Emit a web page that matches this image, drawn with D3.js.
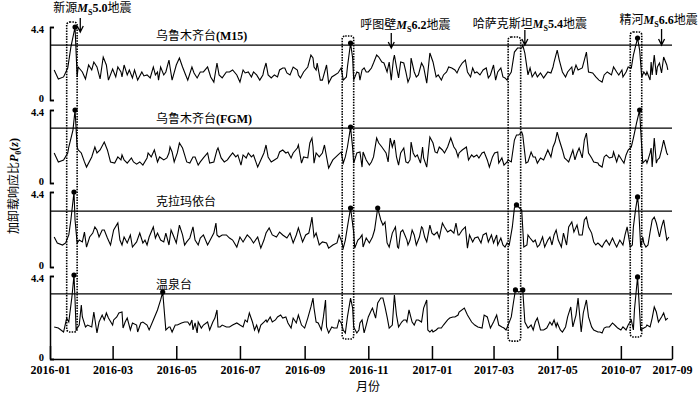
<!DOCTYPE html>
<html>
<head>
<meta charset="utf-8">
<script src="https://cdn.jsdelivr.net/npm/d3@7"></script>
<style>
body { margin: 0; background: #fff; }
text { font-family: "Liberation Serif", "Noto Sans CJK SC", serif; fill: #000; }
</style>
</head>
<body>
<div id="chart"></div>
<script>
// day = days since 2016-01-01, value = P0(z)
var m15 = [[4,1.81],[8,1.27],[13,1.39],[17,1.93],[20,3.19],[24,4.4],[26,1.39],[27,1.99],[31,1.69],[34,1.27],[37,2.11],[40,1.81],[42,2.29],[45,1.99],[48,1.27],[51,2.59],[54,2.11],[56,1.2],[60,1.87],[63,1.39],[65,1.99],[68,1.69],[69,1.39],[71,2.11],[74,1.51],[76,1.81],[79,1.33],[81,1.81],[84,1.2],[88,1.69],[90,1.45],[93,1.51],[96,1.33],[99,1.99],[101,1.51],[103,1.69],[104,1.2],[106,1.99],[109,1.51],[111,1.69],[114,2.41],[115,1.99],[117,1.2],[121,2.11],[124,2.53],[127,1.99],[130,1.51],[132,1.2],[136,1.99],[138,1.63],[141,1.33],[144,1.69],[147,1.69],[151,1.99],[154,1.39],[157,1.08],[160,2.23],[162,1.51],[165,1.33],[169,1.69],[172,1.69],[175,1.81],[179,1.51],[182,1.08],[185,1.81],[187,1.63],[190,1.69],[193,1.39],[195,1.69],[198,1.51],[201,1.2],[204,1.51],[205,1.81],[207,2.23],[209,1.51],[212,1.33],[215,1.51],[218,1.39],[220,1.81],[223,1.93],[225,1.93],[227,1.63],[230,1.51],[233,1.99],[237,1.81],[238,1.51],[240,1.33],[243,1.69],[247,1.99],[250,2.71],[252,2.53],[253,1.99],[255,1.81],[256,2.23],[259,1.2],[261,1.2],[265,2.11],[267,1.02],[270,1.39],[273,1.51],[276,1.63],[279,1.93],[281,1.2],[284,1.39],[285,1.99],[288,3.43],[290,2.53],[291,1.2],[294,1.69],[296,1.63],[297,1.2],[299,1.81],[301,1.93],[303,1.69],[305,1.69],[308,1.93],[310,2.23],[313,2.71],[315,2.59],[318,2.29],[320,2.23],[323,1.69],[325,2.29],[327,1.2],[329,2.41],[330,2.71],[332,1.99],[334,1.33],[336,2.29],[339,2.23],[341,1.69],[343,1.08],[345,1.39],[346,2.53],[349,1.69],[351,1.39],[353,1.51],[356,2.23],[358,1.99],[361,1.02],[364,2.83],[367,2.29],[370,1.39],[372,1.51],[375,1.2],[377,1.51],[380,1.69],[382,1.99],[385,1.93],[388,1.81],[390,1.63],[392,1.93],[395,2.23],[398,2.41],[400,1.69],[403,1.39],[405,1.93],[407,1.63],[409,1.69],[412,1.51],[415,1.81],[418,1.93],[420,1.33],[422,1.51],[425,2.11],[427,1.2],[429,1.69],[432,1.93],[434,1.39],[436,1.33],[438,1.2],[439,1.39],[442,1.69],[445,2.89],[448,3.13],[452,3.13],[453,3.31],[455,2.83],[458,1.51],[460,1.93],[462,1.39],[465,1.69],[467,1.39],[470,1.63],[473,1.33],[477,1.69],[480,1.63],[482,1.99],[483,2.29],[486,3.01],[488,2.41],[491,1.69],[494,1.39],[496,1.69],[500,1.99],[501,1.51],[504,2.11],[506,1.81],[510,1.93],[512,2.41],[514,2.89],[516,1.69],[520,1.63],[523,1.39],[526,1.2],[529,1.08],[531,1.51],[534,1.69],[538,1.51],[540,1.99],[543,1.69],[545,1.51],[548,1.81],[549,1.39],[552,1.69],[554,1.99],[557,1.93],[559,2.71],[563,3.73],[565,3.01],[567,1.39],[569,1.69],[571,1.51],[572,1.69],[575,1.2],[576,2.29],[577,1.51],[579,2.71],[581,1.51],[582,1.99],[584,2.23],[586,1.63],[588,2.59],[591,2.11],[592,1.81]];

var fgm = [[4,1.81],[8,1.27],[13,1.39],[17,1.81],[18,2.17],[22,3.19],[24,4.4],[26,2.17],[27,1.99],[30,1.81],[33,1.27],[35,0.96],[40,1.57],[43,2.17],[45,1.81],[48,1.99],[52,2.47],[55,1.99],[58,1.27],[62,1.2],[65,1.57],[68,1.39],[69,1.69],[71,1.39],[74,1.2],[78,1.51],[80,1.27],[83,1.14],[86,1.27],[89,1.08],[93,1.51],[94,1.81],[97,1.57],[100,1.99],[103,1.27],[105,1.57],[109,1.39],[112,1.51],[114,1.81],[115,2.17],[117,1.87],[119,1.27],[122,1.81],[124,2.41],[127,2.11],[129,1.69],[131,1.27],[134,1.2],[137,1.57],[139,1.57],[142,1.08],[144,1.27],[147,1.51],[151,1.81],[153,1.2],[157,1.27],[160,1.99],[161,2.11],[164,1.51],[167,1.27],[170,1.39],[172,1.57],[175,1.81],[178,1.57],[180,1.69],[183,1.08],[185,1.69],[188,1.51],[190,1.81],[193,1.57],[195,1.69],[199,0.96],[202,1.39],[205,1.81],[207,2.29],[209,1.57],[212,1.27],[215,1.39],[218,1.51],[220,1.87],[223,1.99],[226,1.81],[228,1.87],[231,1.51],[233,1.81],[237,2.11],[238,2.29],[241,1.2],[243,1.57],[247,1.51],[249,2.41],[251,2.71],[252,2.17],[253,1.2],[255,1.81],[258,1.57],[261,1.81],[263,2.29],[265,1.57],[267,0.9],[271,1.39],[274,1.57],[276,1.69],[279,1.87],[281,1.2],[283,1.57],[285,2.17],[288,3.37],[290,2.11],[291,1.2],[294,1.81],[297,1.87],[299,0.96],[300,1.87],[303,1.39],[306,1.08],[308,1.27],[310,1.57],[313,2.71],[315,2.41],[318,2.17],[320,1.99],[322,1.81],[324,1.27],[326,2.71],[328,2.17],[330,2.59],[332,1.57],[334,1.08],[336,1.81],[339,2.11],[341,1.27],[343,1.2],[345,1.39],[346,2.47],[348,1.81],[350,1.57],[352,1.69],[355,1.2],[357,2.17],[358,1.51],[361,0.96],[364,2.77],[367,2.41],[369,1.87],[371,1.81],[373,2.17],[376,1.99],[378,1.81],[381,2.17],[384,2.71],[387,2.17],[389,1.99],[391,1.57],[392,1.81],[395,1.99],[399,2.17],[401,1.39],[404,1.69],[406,1.57],[409,1.69],[411,1.51],[414,1.81],[416,1.87],[419,1.39],[421,0.96],[424,1.57],[426,1.81],[429,1.87],[430,1.2],[433,1.51],[435,1.08],[438,1.27],[439,1.39],[442,1.27],[445,2.59],[447,2.89],[449,2.89],[452,3.07],[453,2.89],[456,1.2],[458,1.27],[461,1.87],[463,1.57],[465,1.57],[467,1.2],[470,1.51],[473,1.39],[475,1.69],[477,1.99],[480,1.57],[482,2.17],[484,2.47],[486,3.07],[488,2.59],[491,1.99],[493,1.51],[495,1.39],[497,1.27],[500,1.81],[501,1.99],[503,1.39],[505,1.81],[507,2.11],[510,1.51],[512,2.59],[514,3.01],[516,1.81],[519,1.51],[521,1.27],[525,1.2],[526,1.08],[529,0.96],[531,1.57],[533,1.69],[536,1.51],[539,1.57],[540,1.87],[543,1.27],[545,1.69],[548,1.39],[550,1.2],[552,1.69],[554,1.99],[557,2.17],[559,2.71],[562,3.61],[565,4.4],[566,3.19],[568,1.2],[569,1.27],[571,1.39],[572,1.2],[573,1.39],[575,1.81],[576,2.11],[577,0.96],[579,2.71],[581,1.2],[582,1.39],[584,1.51],[586,1.99],[588,2.59],[591,1.81],[592,1.69]];

var klmy = [[4,1.76],[7,1.41],[12,1.29],[15,1.41],[18,1.88],[20,2.76],[23,4.4],[24,2.76],[26,1.41],[28,1.58],[31,1.47],[33,2.05],[35,1.17],[38,1.76],[41,1.99],[43,2.35],[45,2.17],[47,1.76],[50,2.17],[52,2.17],[55,1.7],[58,1.29],[61,2.17],[65,2.58],[67,1.58],[69,1.29],[71,1.76],[74,1.41],[77,1.88],[79,1.17],[83,1.47],[86,1.99],[89,1.41],[91,1.58],[93,1.29],[95,1.76],[99,2.35],[101,1.7],[103,1.99],[106,1.58],[109,1.47],[111,1.99],[114,1.29],[116,2.17],[118,1.88],[121,1.41],[124,2.46],[127,1.88],[129,1.29],[131,1.47],[134,1.7],[137,2.35],[139,1.58],[142,1.29],[144,1.7],[147,1.88],[151,1.29],[155,1.76],[157,1.99],[159,2.58],[160,1.88],[162,1.76],[165,1.88],[169,1.88],[172,1.7],[175,1.58],[179,1.17],[182,1.76],[185,1.47],[189,1.88],[192,1.7],[195,1.41],[199,1.76],[202,1.11],[205,1.58],[207,1.99],[210,2.29],[213,1.88],[217,1.76],[220,2.05],[223,1.88],[227,1.7],[230,1.99],[233,1.41],[236,1.88],[238,2.29],[242,1.47],[245,1.88],[248,1.99],[250,2.58],[251,2.93],[253,1.76],[255,1.99],[258,1.29],[261,1.47],[265,1.41],[267,1.11],[271,1.29],[275,1.41],[277,1.88],[279,1.58],[281,1.11],[283,1.58],[285,2.35],[288,3.46],[291,2.05],[292,1.11],[295,1.58],[297,1.7],[299,1.88],[300,1.17],[303,1.7],[306,1.41],[309,1.76],[311,2.17],[314,3.46],[317,2.76],[319,2.46],[321,2.64],[323,1.41],[325,1.17],[328,1.99],[331,2.35],[333,1.17],[334,1.11],[336,2.05],[338,2.17],[340,1.88],[342,1.58],[343,1.29],[345,1.58],[347,2.17],[349,1.88],[351,1.29],[354,1.76],[356,2.35],[357,2.29],[359,1.76],[361,1.47],[364,2.46],[366,1.99],[368,1.88],[371,2.05],[373,1.7],[376,2.58],[378,2.35],[381,2.05],[384,2.17],[387,1.99],[389,2.58],[391,1.88],[392,1.88],[395,2.17],[398,2.35],[400,1.11],[402,1.88],[405,1.47],[407,1.7],[410,1.76],[413,1.41],[415,1.88],[418,1.99],[420,1.47],[423,1.88],[425,1.41],[428,1.88],[429,1.29],[432,1.7],[434,1.29],[436,1.17],[438,1.41],[440,1.29],[443,2.35],[445,3.46],[447,3.64],[449,3.52],[452,3.34],[454,1.17],[457,1.29],[458,1.88],[460,1.7],[463,1.47],[465,1.58],[467,1.17],[469,1.29],[472,1.76],[474,1.17],[477,1.58],[479,1.76],[481,1.29],[483,1.88],[485,2.17],[487,1.58],[490,1.17],[492,1.99],[495,1.29],[497,2.35],[500,2.64],[502,2.05],[505,2.46],[507,1.88],[510,1.88],[512,2.76],[514,2.93],[516,2.35],[519,1.99],[521,1.47],[523,1.29],[525,1.41],[527,1.29],[529,1.17],[531,1.41],[533,1.58],[536,1.29],[539,1.7],[541,1.41],[543,1.17],[546,1.58],[549,1.29],[551,1.88],[553,2.35],[556,1.17],[558,1.29],[559,2.35],[561,3.34],[563,4.11],[564,3.52],[566,1.17],[568,1.76],[569,1.41],[571,1.17],[573,1.29],[575,2.05],[577,2.76],[579,2.93],[581,2.58],[584,1.76],[586,2.35],[588,2.76],[590,1.99],[591,1.58],[593,1.76]];

var wq = [[4,1.7],[8,1.64],[13,1.43],[16,2.17],[18,1.96],[21,3.29],[23,4.45],[24,3.13],[25,1.54],[28,1.8],[30,2.86],[31,2.23],[34,1.7],[36,1.8],[40,1.7],[42,2.49],[45,1.38],[47,1.96],[50,2.33],[52,2.07],[54,2.44],[56,2.17],[60,1.8],[61,2.07],[64,2.23],[66,2.44],[69,2.49],[70,1.64],[72,1.96],[74,2.17],[77,1.54],[79,1.91],[83,1.8],[84,1.43],[87,1.91],[89,1.96],[93,1.8],[95,1.54],[99,2.07],[103,2.6],[106,3.13],[108,3.55],[111,1.54],[114,1.7],[115,1.7],[117,1.43],[120,1.8],[122,1.8],[126,1.91],[129,1.96],[132,1.96],[134,1.8],[136,2.07],[137,1.54],[139,1.91],[141,1.38],[142,1.96],[145,1.64],[147,1.8],[151,1.96],[153,1.54],[156,1.96],[158,2.17],[160,2.6],[161,1.7],[163,1.7],[165,1.8],[169,1.7],[172,1.7],[175,1.8],[179,1.91],[182,1.8],[185,1.7],[187,2.07],[189,1.96],[191,2.44],[194,1.96],[196,1.54],[198,1.8],[200,1.43],[202,1.8],[205,1.96],[207,2.07],[208,1.96],[211,2.23],[213,1.96],[216,2.07],[218,2.23],[221,2.33],[223,2.17],[226,2.23],[228,1.91],[231,1.64],[233,2.17],[236,1.91],[238,2.33],[241,1.8],[244,1.64],[247,2.17],[250,2.76],[252,3.23],[253,2.7],[255,1.96],[257,1.91],[260,1.54],[262,2.23],[264,3.13],[265,1.7],[267,1.38],[270,1.7],[272,1.64],[275,1.64],[277,2.07],[279,1.91],[281,1.54],[283,1.38],[285,2.23],[288,3.23],[290,2.7],[291,1.7],[294,1.38],[296,1.54],[297,1.91],[299,2.07],[301,1.38],[303,1.8],[305,2.23],[308,2.6],[309,2.7],[312,2.17],[314,2.97],[317,3.23],[319,3.23],[321,2.76],[323,2.23],[325,1.64],[328,1.8],[330,3.39],[332,2.33],[334,1.7],[337,1.96],[339,2.07],[341,2.07],[342,1.96],[344,2.6],[346,2.17],[347,1.96],[349,1.8],[351,2.07],[353,2.07],[356,1.96],[358,2.7],[361,3.13],[362,1.54],[364,1.43],[366,1.54],[367,1.43],[370,1.54],[372,1.64],[375,1.64],[377,1.8],[381,2.07],[383,2.17],[386,2.23],[388,2.23],[391,2.33],[392,2.49],[397,2.7],[400,2.33],[404,1.96],[407,1.8],[410,1.7],[414,1.64],[416,2.33],[419,2.23],[422,1.64],[425,1.96],[428,2.33],[430,1.8],[433,1.7],[435,1.64],[437,1.54],[439,1.8],[442,2.23],[444,2.97],[446,3.66],[449,3.55],[452,3.61],[453,3.66],[455,1.96],[458,1.64],[461,1.8],[463,1.54],[465,1.96],[467,2.17],[470,1.54],[473,1.54],[476,1.64],[479,1.96],[481,1.8],[483,2.07],[485,1.7],[486,1.91],[489,1.54],[491,1.43],[494,1.7],[496,2.23],[499,2.76],[501,1.7],[504,2.33],[506,3.23],[509,1.43],[511,2.44],[514,3.13],[516,2.23],[519,1.7],[521,1.54],[525,1.43],[527,1.43],[529,1.38],[531,1.64],[533,1.7],[536,1.7],[539,1.91],[542,1.75],[544,1.64],[547,1.54],[549,1.7],[552,1.54],[554,1.8],[557,2.07],[559,1.54],[560,2.6],[563,4.35],[566,1.54],[569,1.64],[571,1.7],[572,1.8],[575,1.7],[577,2.17],[579,2.76],[581,2.49],[583,1.96],[586,2.23],[588,2.44],[590,2.07],[592,2.17]];

var series = [m15, fgm, klmy, wq];
var stations = ["乌鲁木齐台(M15)", "乌鲁木齐台(FGM)", "克拉玛依台", "温泉台"];
var thresholds = [3.31, 3.31, 3.28, 3.45];
// marked points (days) in each panel
var peakDays = [[24, 288, 563], [24, 288, 565], [23, 288, 314, 447, 563], [23, 108, 446, 453, 563]];

var tickDates = ["2016-01-01","2016-03-01","2016-05-01","2016-07-01","2016-09-01","2016-11-01","2017-01-01","2017-03-01","2017-05-01","2017-07-01","2017-08-19"];
var tickLabels = ["2016-01","2016-03","2016-05","2016-07","2016-09","2016-11","2017-01","2017-03","2017-05","2010-07","2017-09"];

// earthquakes: arrow day, boxed window (days), box top (panel 1 value), box bottom (panel 4 value)
var quakes = [
    {place: "新源", mag: "5.0", day: 29, from: 16, to: 26, top: 4.7, bottom: 1.43},
    {place: "呼图壁", mag: "6.2", day: 327, from: 280, to: 291, top: 3.86, bottom: 1.06},
    {place: "哈萨克斯坦", mag: "5.4", day: 455, from: 439, to: 451, top: 3.8, bottom: 0.95},
    {place: "精河", mag: "6.6", day: 586, from: 556, to: 567, top: 4.1, bottom: 1.17}
];

var dims = {width: 700, height: 394, left: 50, right: 672};
var panels = [{top: 27, bottom: 100}, {top: 110, bottom: 183}, {top: 192, bottom: 267}, {top: 276, bottom: 359}];
// label / arrow placement for each quake
var quakeLayout = [
    {dx: -27, labelY: 12, y0: 18, y1: 32},
    {dx: -31, labelY: 29, y0: 33, y1: 48},
    {dx: -52, labelY: 28, y0: 30, y1: 45},
    {dx: -42, labelY: 24, y0: 29, y1: 45}
];

var t0 = new Date(2016, 0, 1);
function dayDate(d) { return d3.timeDay.offset(t0, d); }

var x = d3.scaleTime()
    .domain([t0, new Date(2017, 7, 19)])
    .range([dims.left, dims.right]);

var ys = panels.map(function(p) {
    return d3.scaleLinear().domain([0, 4.4]).range([p.bottom, p.top]);
});

var svg = d3.select('#chart')
    .append('svg')
    .attr('width', dims.width)
    .attr('height', dims.height);

// rich text helper: parts = [text, style]
function rich(sel, parts) {
    var shift = 0;
    parts.forEach(function(p) {
        var ts = sel.append('tspan').text(p[0]);
        var s = p[1] || '';
        if (s.indexOf('b') >= 0) ts.attr('font-weight', 'bold');
        if (s.indexOf('i') >= 0) ts.attr('font-style', 'italic');
        if (s.indexOf('s') >= 0) {
            ts.attr('font-size', 8).attr('dy', 3 - shift);
            shift = 3;
        } else if (shift) {
            ts.attr('dy', -shift);
            shift = 0;
        }
    });
}

var parseDay = d3.timeParse('%Y-%m-%d');

panels.forEach(function(p, i) {
    var y = ys[i];
    var g = svg.append('g');

    g.append('g')
        .attr('transform', 'translate(' + dims.left + ',0)')
        .call(d3.axisLeft(y).tickValues([0, 4.4]).tickSize(-4).tickPadding(6)
            .tickFormat(function(d) { return d; }))
        .call(function(a) {
            a.selectAll('path, line').attr('stroke', '#000').attr('stroke-width', 1.5);
            a.selectAll('text').attr('font-size', 10.5).attr('font-weight', 'bold')
                .attr('font-family', 'Liberation Serif')
                .attr('dy', function(d) { return d === 0 ? '0.1em' : '0.5em'; });
        });

    g.append('line')
        .attr('x1', dims.left).attr('x2', dims.right)
        .attr('y1', y(thresholds[i])).attr('y2', y(thresholds[i]))
        .attr('stroke', '#000').attr('stroke-width', 1.3);

    var lbl = g.append('text')
        .attr('x', 156)
        .attr('y', y(thresholds[i]) - 5)
        .attr('font-size', 12);
    var m = stations[i].match(/^([^(]+)(\(.*\))?$/);
    rich(lbl, m[2] ? [[m[1]], [m[2], 'b']] : [[m[1]]]);

    var line = d3.line()
        .x(function(d) { return x(dayDate(d[0])); })
        .y(function(d) { return y(d[1]); });

    g.append('path')
        .datum(series[i])
        .attr('d', line)
        .attr('fill', 'none')
        .attr('stroke', '#000')
        .attr('stroke-width', 1.1)
        .attr('stroke-linejoin', 'miter');

    var pts = series[i].filter(function(d) { return peakDays[i].indexOf(d[0]) >= 0; });
    g.selectAll('circle')
        .data(pts)
        .enter()
        .append('circle')
        .attr('cx', function(d) { return x(dayDate(d[0])); })
        .attr('cy', function(d) { return y(d[1]); })
        .attr('r', 2.6)
        .attr('fill', '#000');
});

// x axis
svg.append('g')
    .attr('transform', 'translate(0,' + panels[3].bottom + ')')
    .call(d3.axisBottom(x)
        .tickValues(tickDates.map(parseDay))
        .tickFormat(function(d, i) { return tickLabels[i]; })
        .tickSizeInner(-13).tickSizeOuter(0).tickPadding(6))
    .call(function(a) {
        a.selectAll('path, line').attr('stroke', '#000').attr('stroke-width', 1.5);
        a.selectAll('text').attr('font-size', 12).attr('font-weight', 'bold')
            .attr('font-family', 'Liberation Serif');
    });

// quake boxes, arrows and labels
quakes.forEach(function(q, i) {
    var L = quakeLayout[i];
    var x0 = x(dayDate(q.from)), x1 = x(dayDate(q.to));
    var yt = ys[0](q.top), yb = ys[3](q.bottom);
    svg.append('rect')
        .attr('x', x0).attr('y', yt)
        .attr('width', x1 - x0).attr('height', yb - yt)
        .attr('rx', 3)
        .attr('fill', 'none')
        .attr('stroke', '#000')
        .attr('stroke-width', 1.6)
        .attr('stroke-dasharray', '1.5,1.2');

    var ax = x(dayDate(q.day));
    svg.append('path')
        .attr('d', 'M' + ax + ',' + L.y0 + 'V' + L.y1 +
            'M' + (ax - 3) + ',' + (L.y1 - 6) + 'L' + ax + ',' + L.y1 + 'L' + (ax + 3) + ',' + (L.y1 - 6))
        .attr('fill', 'none')
        .attr('stroke', '#000')
        .attr('stroke-width', 1.3);

    var t = svg.append('text')
        .attr('x', ax + L.dx)
        .attr('y', L.labelY)
        .attr('font-size', 12);
    rich(t, [[q.place], ['M', 'bi'], ['S', 'bs'], [q.mag, 'b'], ['地震']]);
});

// axis titles
var yt = svg.append('text')
    .attr('transform', 'translate(18,186) rotate(-90)')
    .attr('text-anchor', 'middle')
    .attr('font-size', 12);
rich(yt, [['加卸载响应比'], ['P', 'bi'], ['0', 'bs'], ['(', 'b'], ['z', 'bi'], [')', 'b']]);

svg.append('text')
    .attr('x', 368)
    .attr('y', 391)
    .attr('text-anchor', 'middle')
    .attr('font-size', 12)
    .text('月份');
</script>
</body>
</html>
